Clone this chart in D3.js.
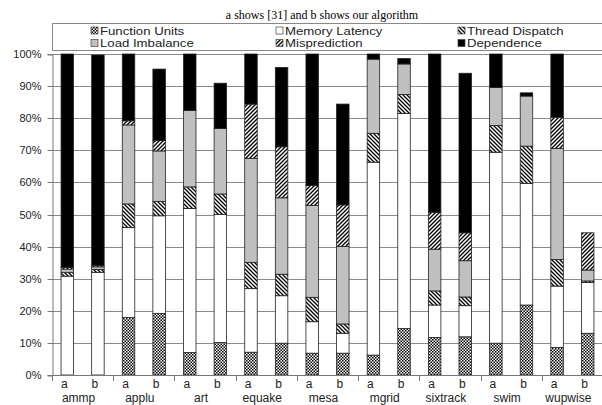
<!DOCTYPE html>
<html><head><meta charset="utf-8">
<script src="https://cdn.jsdelivr.net/npm/d3@7"></script>
<style>body{margin:0;background:#fff}svg{display:block}</style>
</head><body>
<script>
const categories = ["ammp","applu","art","equake","mesa","mgrid","sixtrack","swim","wupwise"];
const variants = ["a","b"];
const seriesNames = ["Function Units","Memory Latency","Thread Dispatch","Load Imbalance","Misprediction","Dependence"];
const functionUnits  = [0,0, 17.9,19.2, 7.0,10.1, 7.1,9.9, 6.8,6.8, 6.2,14.5, 11.7,11.9, 9.9,21.8, 8.6,13.0];
const memoryLatency  = [30.8,32.0, 28.0,30.4, 44.9,39.9, 19.8,14.8, 9.8,6.2, 60.1,67.0, 10.1,9.7, 59.5,37.9, 19.1,15.8];
const threadDispatch = [1.2,0.9, 7.4,4.5, 6.7,6.4, 8.2,6.7, 7.6,2.9, 9.0,5.9, 4.4,2.7, 8.3,11.6, 8.3,0.5];
const loadImbalance  = [1.0,0.8, 24.6,15.7, 23.8,20.4, 32.4,23.8, 28.6,24.1, 23.1,9.5, 13.0,11.3, 11.9,15.6, 34.6,3.4];
const misprediction  = [0.5,0.4, 1.3,3.2, 0,0, 16.9,15.9, 6.2,13.0, 0,0, 11.5,8.7, 0,0, 9.7,11.6];
const dependence     = [66.5,65.6, 20.8,22.3, 17.6,14.1, 15.6,24.7, 41.0,31.4, 1.6,1.7, 49.3,49.7, 10.4,1.0, 19.7,0];
const yTicks = [0,10,20,30,40,50,60,70,80,90,100];
const title = "a shows [31] and b shows our algorithm";

const seriesValues = [functionUnits, memoryLatency, threadDispatch, loadImbalance, misprediction, dependence];
const rows = [];
categories.forEach((c,ci)=>variants.forEach((v,vi)=>{
  const r = {cat:c, variant:v};
  seriesNames.forEach((s,si)=>{ r[s] = seriesValues[si][ci*2+vi]; });
  rows.push(r);
}));

const W=602,H=405;
const svg = d3.select("body").append("svg").attr("width",W).attr("height",H);
const defs = svg.append("defs");
const pc = defs.append("pattern").attr("id","pFU").attr("patternUnits","userSpaceOnUse").attr("width",3).attr("height",3);
pc.append("rect").attr("width",3).attr("height",3).attr("fill","#fff");
pc.append("rect").attr("width",1.5).attr("height",1.5).attr("fill","#000");
pc.append("rect").attr("x",1.5).attr("y",1.5).attr("width",1.5).attr("height",1.5).attr("fill","#000");
const pt = defs.append("pattern").attr("id","pTD").attr("patternUnits","userSpaceOnUse").attr("width",4).attr("height",4);
pt.append("rect").attr("width",4).attr("height",4).attr("fill","#fff");
pt.append("path").attr("d","M-1,-1L5,5M-1,3L1,5M3,-1L5,1").attr("stroke","#000").attr("stroke-width",1.3);
const pm = defs.append("pattern").attr("id","pMP").attr("patternUnits","userSpaceOnUse").attr("width",4).attr("height",4);
pm.append("rect").attr("width",4).attr("height",4).attr("fill","#fff");
pm.append("path").attr("d","M-1,5L5,-1M-1,1L1,-1M3,5L5,3").attr("stroke","#000").attr("stroke-width",1.3);

const fills = ["url(#pFU)","#fff","url(#pTD)","#c0c0c0","url(#pMP)","#000"];

const x0 = d3.scaleBand().domain(categories).range([52,603]).padding(0);
const x1 = d3.scalePoint().domain(variants).range([0.25,0.75]);
const y = d3.scaleLinear().domain([0,100]).range([375,54]);
const barW = 12.5;
const bx = d=> x0(d.cat) + x1(d.variant)*x0.bandwidth();

svg.append("text").attr("x",322).attr("y",18.5).attr("text-anchor","middle")
  .attr("font-family","Liberation Serif, serif").attr("font-size",12).text(title);

svg.append("rect").attr("x",52.5).attr("y",23.5).attr("width",560).attr("height",27)
  .attr("fill","#fff").attr("stroke","#888");
const legX = [91,276,458], legY=[30.5,43];
seriesNames.forEach((s,i)=>{
  const col=i%3,row=Math.floor(i/3);
  svg.append("rect").attr("x",legX[col]).attr("y",legY[row]-3.5).attr("width",7).attr("height",7)
    .attr("fill",fills[i]).attr("stroke","#444").attr("stroke-width",0.7);
  svg.append("text").attr("transform",`translate(${legX[col]+9},${legY[row]+4}) scale(1.2,1)`)
    .attr("font-family","Liberation Sans, Arial, sans-serif").attr("font-size",11).attr("fill","#222").text(s);
});

svg.append("g").selectAll("line").data(yTicks.filter(t=>t>0)).join("line")
  .attr("x1",52).attr("x2",603).attr("y1",d=>Math.round(y(d))+0.5).attr("y2",d=>Math.round(y(d))+0.5)
  .attr("stroke","#8a8a8a").attr("stroke-width",1);

const yAxis = svg.append("g").attr("transform","translate(52.5,0.5)")
  .call(d3.axisLeft(y).tickValues(yTicks).tickFormat(d=>d+"%").tickSize(5).tickPadding(6));
yAxis.select(".domain").attr("stroke","#777");
yAxis.selectAll(".tick line").attr("stroke","#777");
yAxis.selectAll("text").attr("font-family","Liberation Sans, Arial, sans-serif").attr("font-size",11).attr("fill","#222");
yAxis.selectAll(".tick").attr("transform",d=>`translate(0,${Math.round(y(d))})`);

const stack = d3.stack().keys(seriesNames)(rows);
svg.append("g").selectAll("g").data(stack).join("g")
  .attr("fill",(d,i)=>fills[i])
  .selectAll("rect").data(d=>d.filter(p=>p[1]-p[0]>0)).join("rect")
  .attr("x",d=>bx(d.data)-barW/2).attr("width",barW)
  .attr("y",d=>y(d[1])).attr("height",d=>y(d[0])-y(d[1]))
  .attr("stroke","#222").attr("stroke-width",0.8);

svg.append("line").attr("x1",52).attr("x2",603).attr("y1",375.5).attr("y2",375.5).attr("stroke","#777");
svg.append("g").selectAll("line").data(categories).join("line")
  .attr("x1",d=>Math.round(x0(d))+0.5).attr("x2",d=>Math.round(x0(d))+0.5)
  .attr("y1",375).attr("y2",381).attr("stroke","#777");
svg.append("g").selectAll("text").data(rows).join("text")
  .attr("x",d=>bx(d)-3).attr("y",388).attr("text-anchor","middle")
  .attr("font-family","Liberation Sans, Arial, sans-serif").attr("font-size",12).attr("fill","#222")
  .text(d=>d.variant);
svg.append("g").selectAll("text").data(categories).join("text")
  .attr("x",d=>x0(d)+x0.bandwidth()/2-4).attr("y",401.5).attr("text-anchor","middle")
  .attr("font-family","Liberation Sans, Arial, sans-serif").attr("font-size",12).attr("fill","#222")
  .text(d=>d);
</script>
</body></html>
